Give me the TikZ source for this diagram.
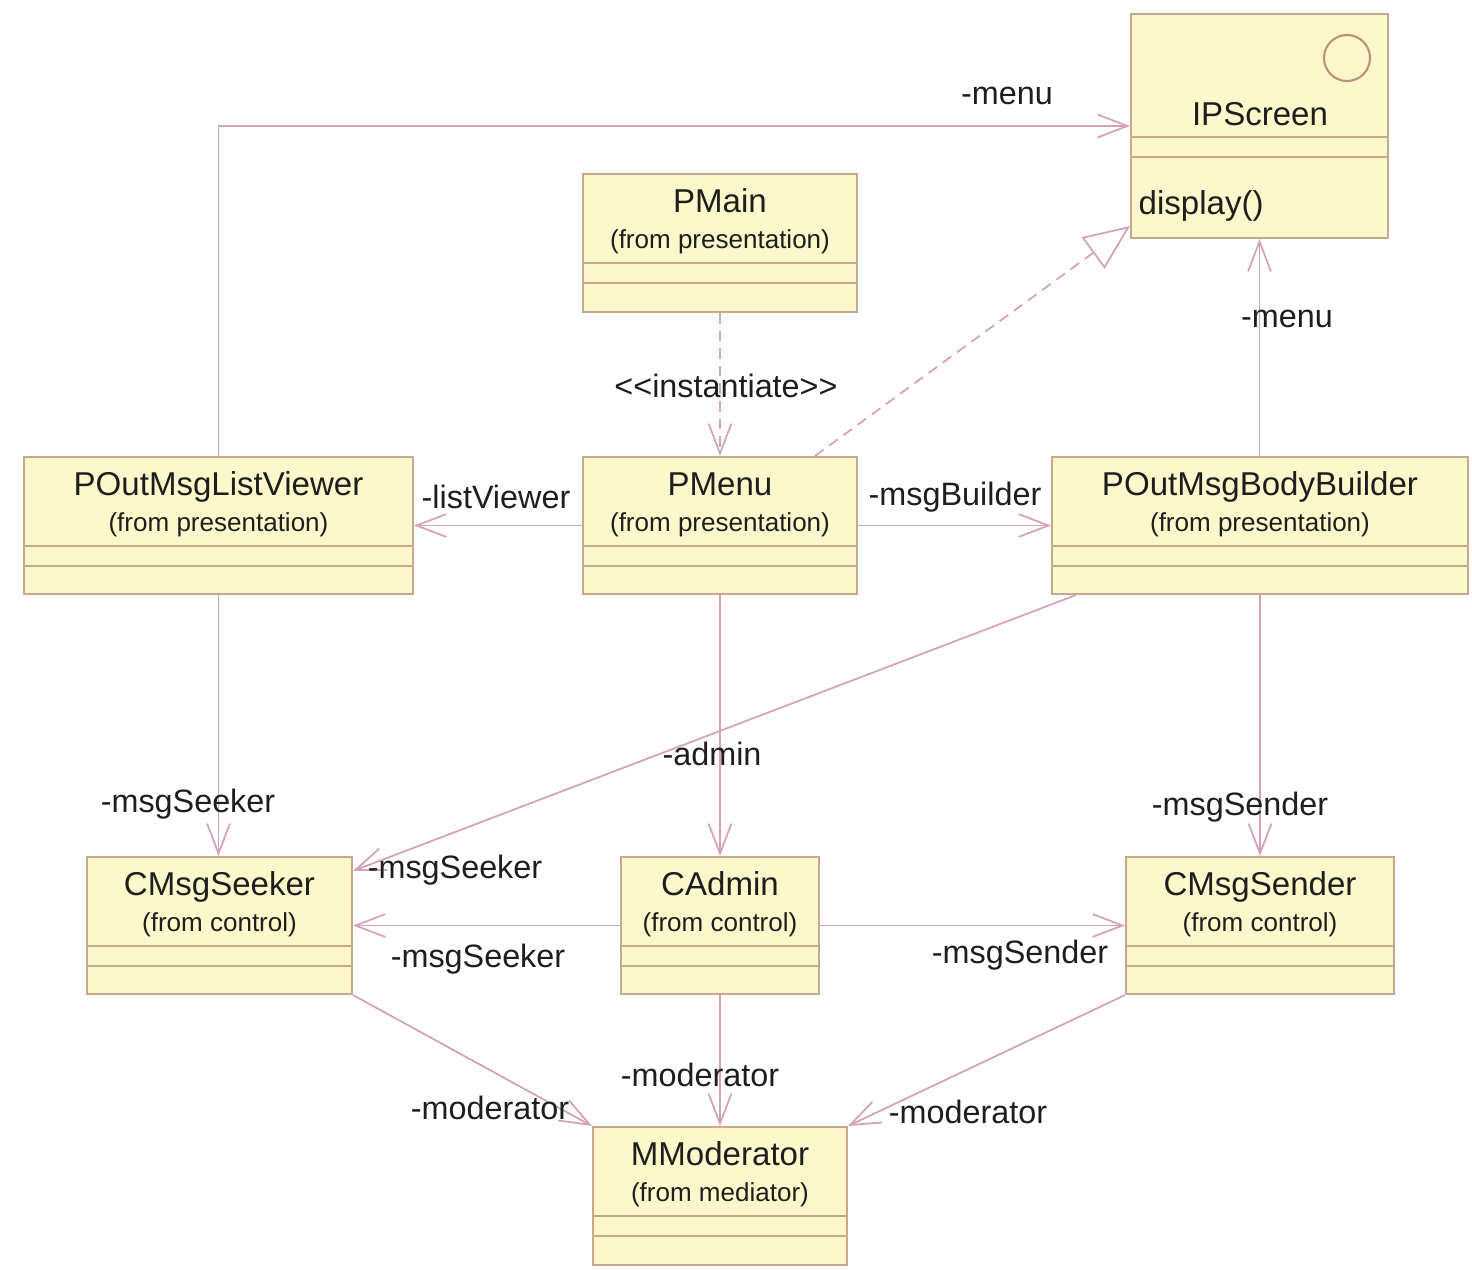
\documentclass[tikz,border=0pt]{standalone}
\usepackage{fontspec}
\setmainfont{Liberation Sans}
\usetikzlibrary{arrows.meta,fit,calc}

\definecolor{boxfill}{HTML}{FCF8CC}
\definecolor{boxline}{HTML}{C9A98E}
\definecolor{link}{HTML}{D6A2BA}
\definecolor{ink}{HTML}{1E1E1E}
\definecolor{iconline}{HTML}{C0907A}

\tikzset{
  classbox/.style={draw=boxline, fill=boxfill, line width=0.6pt, inner sep=0pt, rectangle},
  compline/.style={draw=boxline, line width=0.6pt},
  title/.style={font=\fontsize{9.4}{11}\selectfont, text=ink, inner sep=0pt},
  origin/.style={font=\fontsize{7.4}{9}\selectfont, text=ink, inner sep=0pt},
  role/.style={font=\fontsize{9.2}{11}\selectfont, text=ink, inner sep=0pt, yshift=-0.03cm},
  assoc/.style={draw=link, line width=0.5pt, -{Straight Barb[length=8.5pt,width=6.5pt]}},
  depend/.style={assoc, dash pattern=on 3pt off 2pt},
  realize/.style={draw=link, line width=0.5pt, dash pattern=on 3pt off 2pt,
    -{Triangle[open,length=13pt,width=11pt,fill=white]}},
}

% class box: name, left, top, right, bottom, class name, package note
\newcommand\umlclass[7]{%
  \coordinate (#1-nw) at (#2,#3);
  \coordinate (#1-se) at (#4,#5);
  \node[classbox, fit=(#1-nw)(#1-se)] (#1) {};
  \node[title, anchor=base]  (#1-name) at ($(#1.north)+(0,40)$) {#6};
  \node[origin, anchor=base] (#1-pkg)  at ($(#1.north)+(0,76)$) {#7};
  \draw[compline] ($(#1.north west)+(0,90)$) -- ($(#1.north east)+(0,90)$);
  \draw[compline] ($(#1.north west)+(0,110)$) -- ($(#1.north east)+(0,110)$);
}

\begin{document}
\begin{tikzpicture}[x=0.01cm, y=-0.01cm]
\useasboundingbox[fill=white] (0,0) rectangle (1472,1269);

% interface IPScreen
\coordinate (ipscreen-nw) at (1131,14);
\coordinate (ipscreen-se) at (1388,238);
\node[classbox, fit=(ipscreen-nw)(ipscreen-se)] (ipscreen) {};
\node[draw=iconline, line width=0.6pt, circle, minimum size=0.46cm, inner sep=0pt] (ipscreen-icon) at (1347,58) {};
\node[title, anchor=base] (ipscreen-name) at (1260,125) {IPScreen};
\draw[compline] ($(ipscreen.north west)+(0,124)$) -- ($(ipscreen.north east)+(0,124)$);
\draw[compline] ($(ipscreen.north west)+(0,144)$) -- ($(ipscreen.north east)+(0,144)$);
\node[title, anchor=base west] (ipscreen-op) at (1138,214) {display()};

% classes
\umlclass{pmain}{583}{174}{857}{312}{PMain}{(from presentation)}
\umlclass{viewer}{24}{457}{413}{594}{POutMsgListViewer}{(from presentation)}
\umlclass{pmenu}{583}{457}{857}{594}{PMenu}{(from presentation)}
\umlclass{builder}{1052}{457}{1468}{594}{POutMsgBodyBuilder}{(from presentation)}
\umlclass{seeker}{87}{857}{352}{994}{CMsgSeeker}{(from control)}
\umlclass{cadmin}{621}{857}{819}{994}{CAdmin}{(from control)}
\umlclass{sender}{1126}{857}{1394}{994}{CMsgSender}{(from control)}
\umlclass{moderator}{593}{1127}{847}{1265}{MModerator}{(from mediator)}

% helper points on box borders
\coordinate (pmenu-corner) at ($(pmenu.north)+(95,0)$);
\coordinate (ipscreen-low) at ($(ipscreen.south west)+(0,-13)$);
\coordinate (builder-low) at ($(builder.south west)+(25,0)$);
\coordinate (seeker-high) at ($(seeker.north east)+(0,15)$);

% connectors
\draw[assoc] (viewer.north) |- (ipscreen.west);
\draw[depend] (pmain.south) -- (pmenu.north);
\draw[realize] (pmenu-corner) -- (ipscreen-low);
\draw[assoc] (builder.north -| ipscreen.south) -- (ipscreen.south);
\draw[assoc] (pmenu.west) -- (viewer.east);
\draw[assoc] (pmenu.east) -- (builder.west);
\draw[assoc] (viewer.south) -- (seeker.north -| viewer.south);
\draw[assoc] (builder-low) -- (seeker-high);
\draw[assoc] (pmenu.south) -- (cadmin.north);
\draw[assoc] (builder.south -| sender.north) -- (sender.north);
\draw[assoc] (cadmin.west) -- (seeker.east);
\draw[assoc] (cadmin.east) -- (sender.west);
\draw[assoc] (seeker.south east) -- (moderator.north west);
\draw[assoc] (cadmin.south) -- (moderator.north -| cadmin.south);
\draw[assoc] (sender.south west) -- (moderator.north east);

% role names and stereotype
\node[role] (l-menu-top) at (1007,93) {-menu};
\node[role] (l-inst) at (726,383) {{<}{<}instantiate{>}{>}};
\node[role] (l-menu-right) at (1287,316) {-menu};
\node[role] (l-viewer) at (496,494) {-listViewer};
\node[role] (l-builder) at (955,494) {-msgBuilder};
\node[role] (l-admin) at (712,751) {-admin};
\node[role] (l-seek-a) at (188,801) {-msgSeeker};
\node[role] (l-send-a) at (1240,804) {-msgSender};
\node[role] (l-seek-b) at (455,867) {-msgSeeker};
\node[role] (l-seek-c) at (478,956) {-msgSeeker};
\node[role] (l-send-b) at (1020,952) {-msgSender};
\node[role] (l-mod-a) at (490,1105) {-moderator};
\node[role] (l-mod-b) at (700,1072) {-moderator};
\node[role] (l-mod-c) at (968,1109) {-moderator};
\end{tikzpicture}
\end{document}
